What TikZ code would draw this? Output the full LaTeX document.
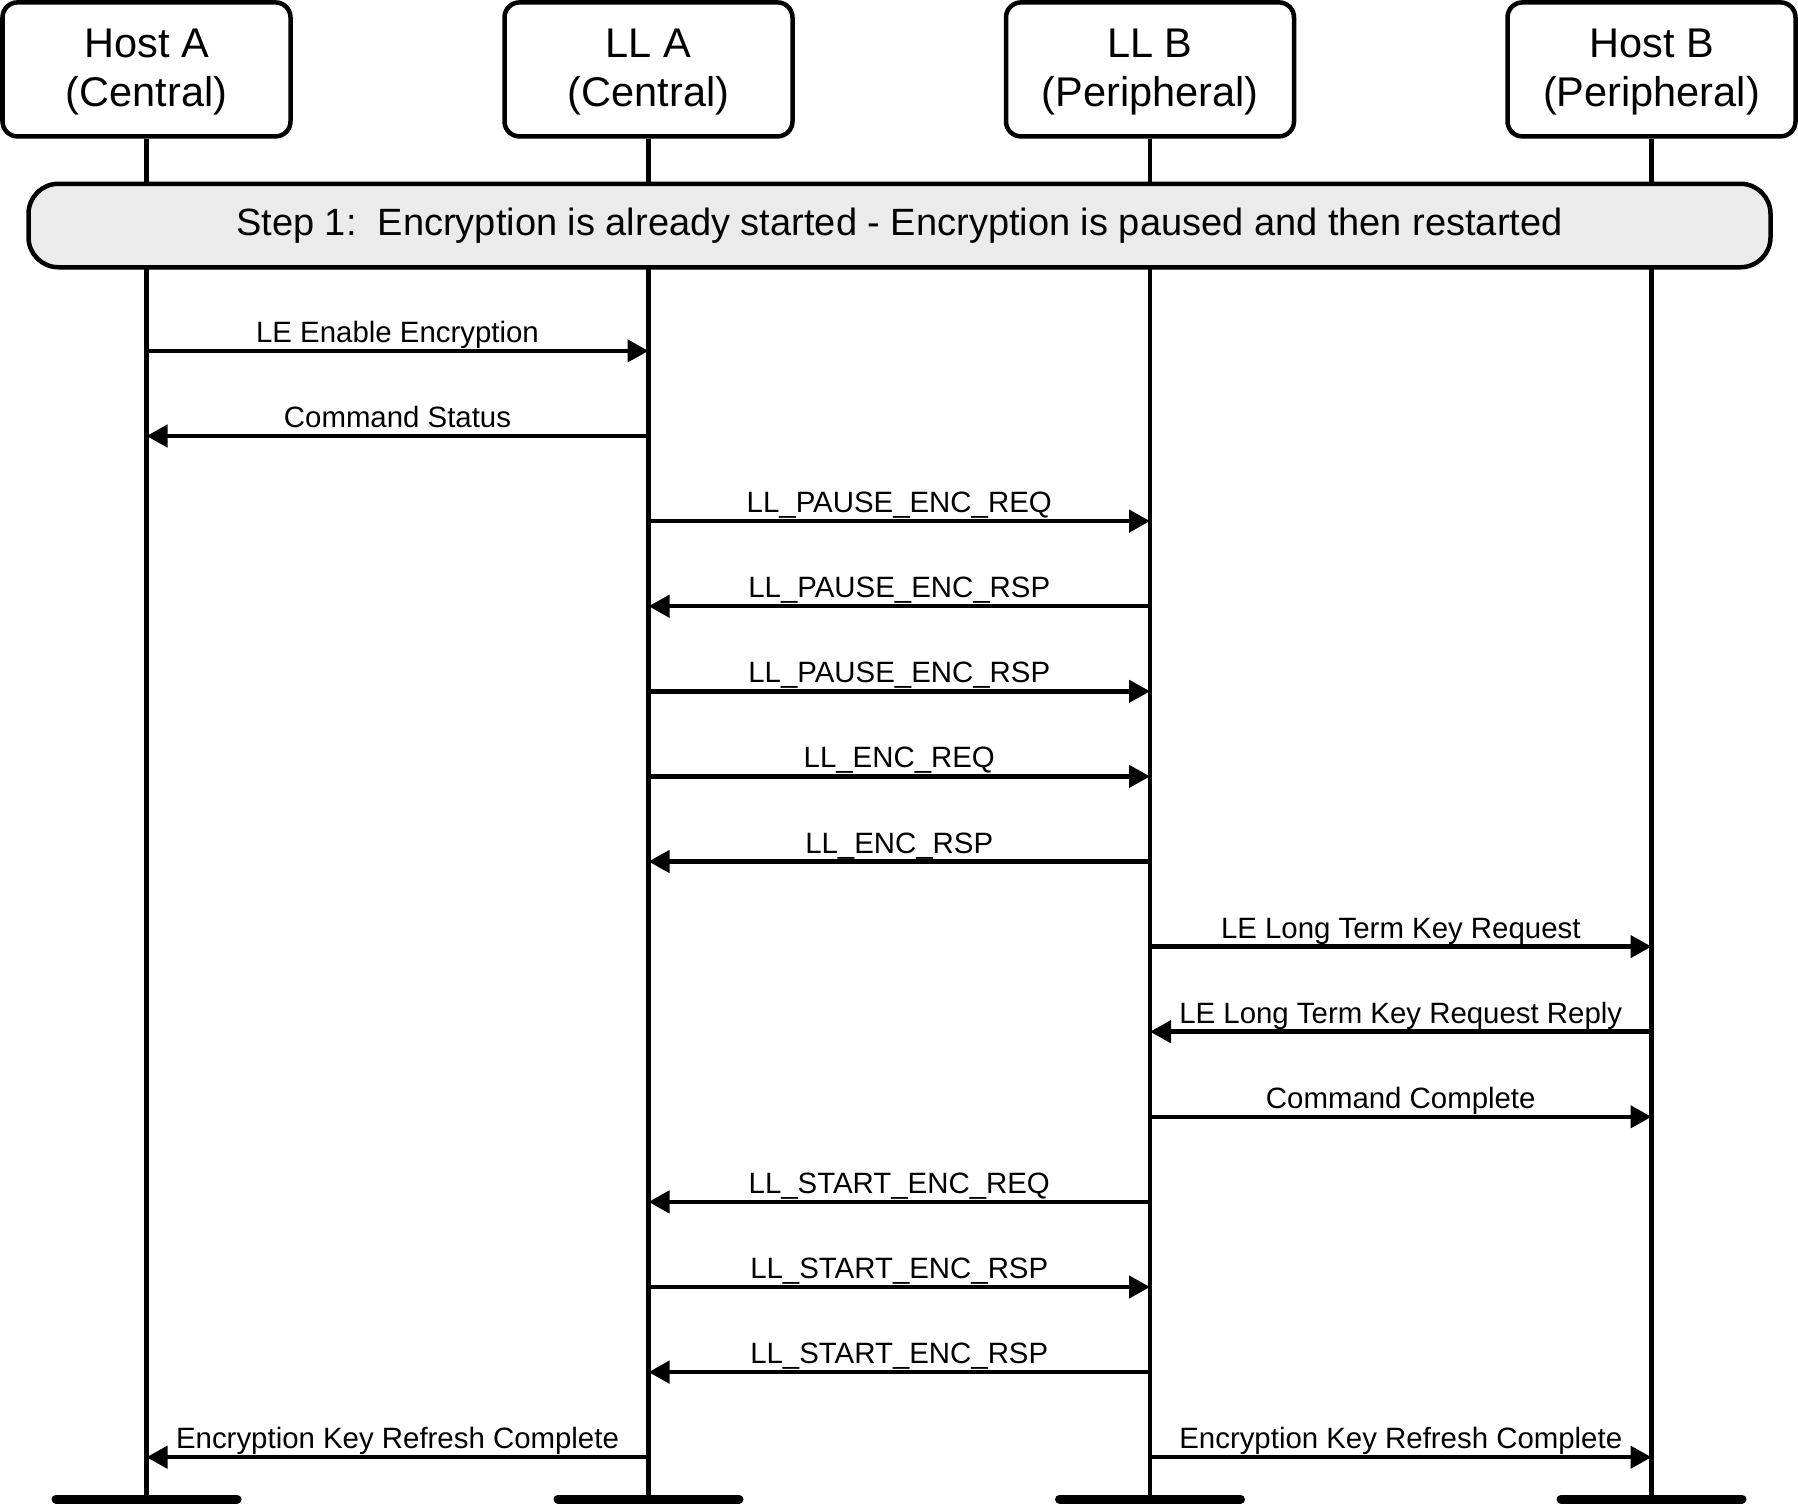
\documentclass[tikz,border=0pt]{standalone}
\usepackage{fontspec}
\setmainfont{Liberation Sans}
\usetikzlibrary{arrows.meta}
\definecolor{stepgray}{HTML}{EBEBEB}
\newcommand\actortext[2]{\raisebox{-3pt}[\height][\depth]{\fontsize{41.5}{49}\selectfont\begin{tabular}{@{}c@{}}#1\\#2\end{tabular}}}
\begin{document}
\begin{tikzpicture}[x=1pt,y=1pt,
  actor/.style={draw, line width=4.5pt, rounded corners=15pt, minimum width=288pt, minimum height=134pt, inner sep=0pt},
  lifeline/.style={line width=4.5pt},
  endbar/.style={line width=9pt, line cap=round},
  stepbar/.style={draw, line width=4.5pt, fill=stepgray, rounded corners=30pt, minimum width=1742pt, minimum height=83.5pt, inner sep=0pt, font=\fontsize{38}{45}\selectfont},
  msg/.style={line width=4.5pt, -{Triangle[length=21pt,width=22pt]}},
  lbl/.style={midway, anchor=base, yshift=8.5pt, inner sep=0pt, font=\fontsize{29.4}{35}\selectfont}
]
\useasboundingbox (0,0) rectangle (1798,-1505);
% actors
\node[actor] (HA) at (146.5,-69.4) {\actortext{Host A}{(Central)}};
\node[actor] (LA) at (648.5,-69.4) {\actortext{LL A}{(Central)}};
\node[actor] (LB) at (1150,-69.4) {\actortext{LL B}{(Peripheral)}};
\node[actor] (HB) at (1651.5,-69.4) {\actortext{Host B}{(Peripheral)}};
% lifelines
\foreach \n in {HA,LA,LB,HB}{
  \coordinate (\n end) at (\n.south |- 0,-1499);
  \draw[lifeline] (\n.south) -- (\n end);
  \draw[endbar] ([xshift=-90.5pt]\n end) -- ([xshift=90.5pt]\n end);
}
% step bar
\node[stepbar] (step) at (899.5,-225.5) {Step 1:\ \ Encryption is already started - Encryption is paused and then restarted};
% messages
\draw[msg] (HA.south |- 0,-350.9) -- node[lbl]{LE Enable Encryption} (LA.south |- 0,-350.9);
\draw[msg] (LA.south |- 0,-436.0) -- node[lbl]{Command Status} (HA.south |- 0,-436.0);
\draw[msg] (LA.south |- 0,-521.1) -- node[lbl]{LL\_PAUSE\_ENC\_REQ} (LB.south |- 0,-521.1);
\draw[msg] (LB.south |- 0,-606.2) -- node[lbl]{LL\_PAUSE\_ENC\_RSP} (LA.south |- 0,-606.2);
\draw[msg] (LA.south |- 0,-691.3) -- node[lbl]{LL\_PAUSE\_ENC\_RSP} (LB.south |- 0,-691.3);
\draw[msg] (LA.south |- 0,-776.4) -- node[lbl]{LL\_ENC\_REQ} (LB.south |- 0,-776.4);
\draw[msg] (LB.south |- 0,-861.5) -- node[lbl]{LL\_ENC\_RSP} (LA.south |- 0,-861.5);
\draw[msg] (LB.south |- 0,-946.6) -- node[lbl]{LE Long Term Key Request} (HB.south |- 0,-946.6);
\draw[msg] (HB.south |- 0,-1031.7) -- node[lbl]{LE Long Term Key Request Reply} (LB.south |- 0,-1031.7);
\draw[msg] (LB.south |- 0,-1116.8) -- node[lbl]{Command Complete} (HB.south |- 0,-1116.8);
\draw[msg] (LB.south |- 0,-1201.9) -- node[lbl]{LL\_START\_ENC\_REQ} (LA.south |- 0,-1201.9);
\draw[msg] (LA.south |- 0,-1287.0) -- node[lbl]{LL\_START\_ENC\_RSP} (LB.south |- 0,-1287.0);
\draw[msg] (LB.south |- 0,-1372.1) -- node[lbl]{LL\_START\_ENC\_RSP} (LA.south |- 0,-1372.1);
\draw[msg] (LA.south |- 0,-1457.2) -- node[lbl]{Encryption Key Refresh Complete} (HA.south |- 0,-1457.2);
\draw[msg] (LB.south |- 0,-1457.2) -- node[lbl]{Encryption Key Refresh Complete} (HB.south |- 0,-1457.2);
\end{tikzpicture}
\end{document}
